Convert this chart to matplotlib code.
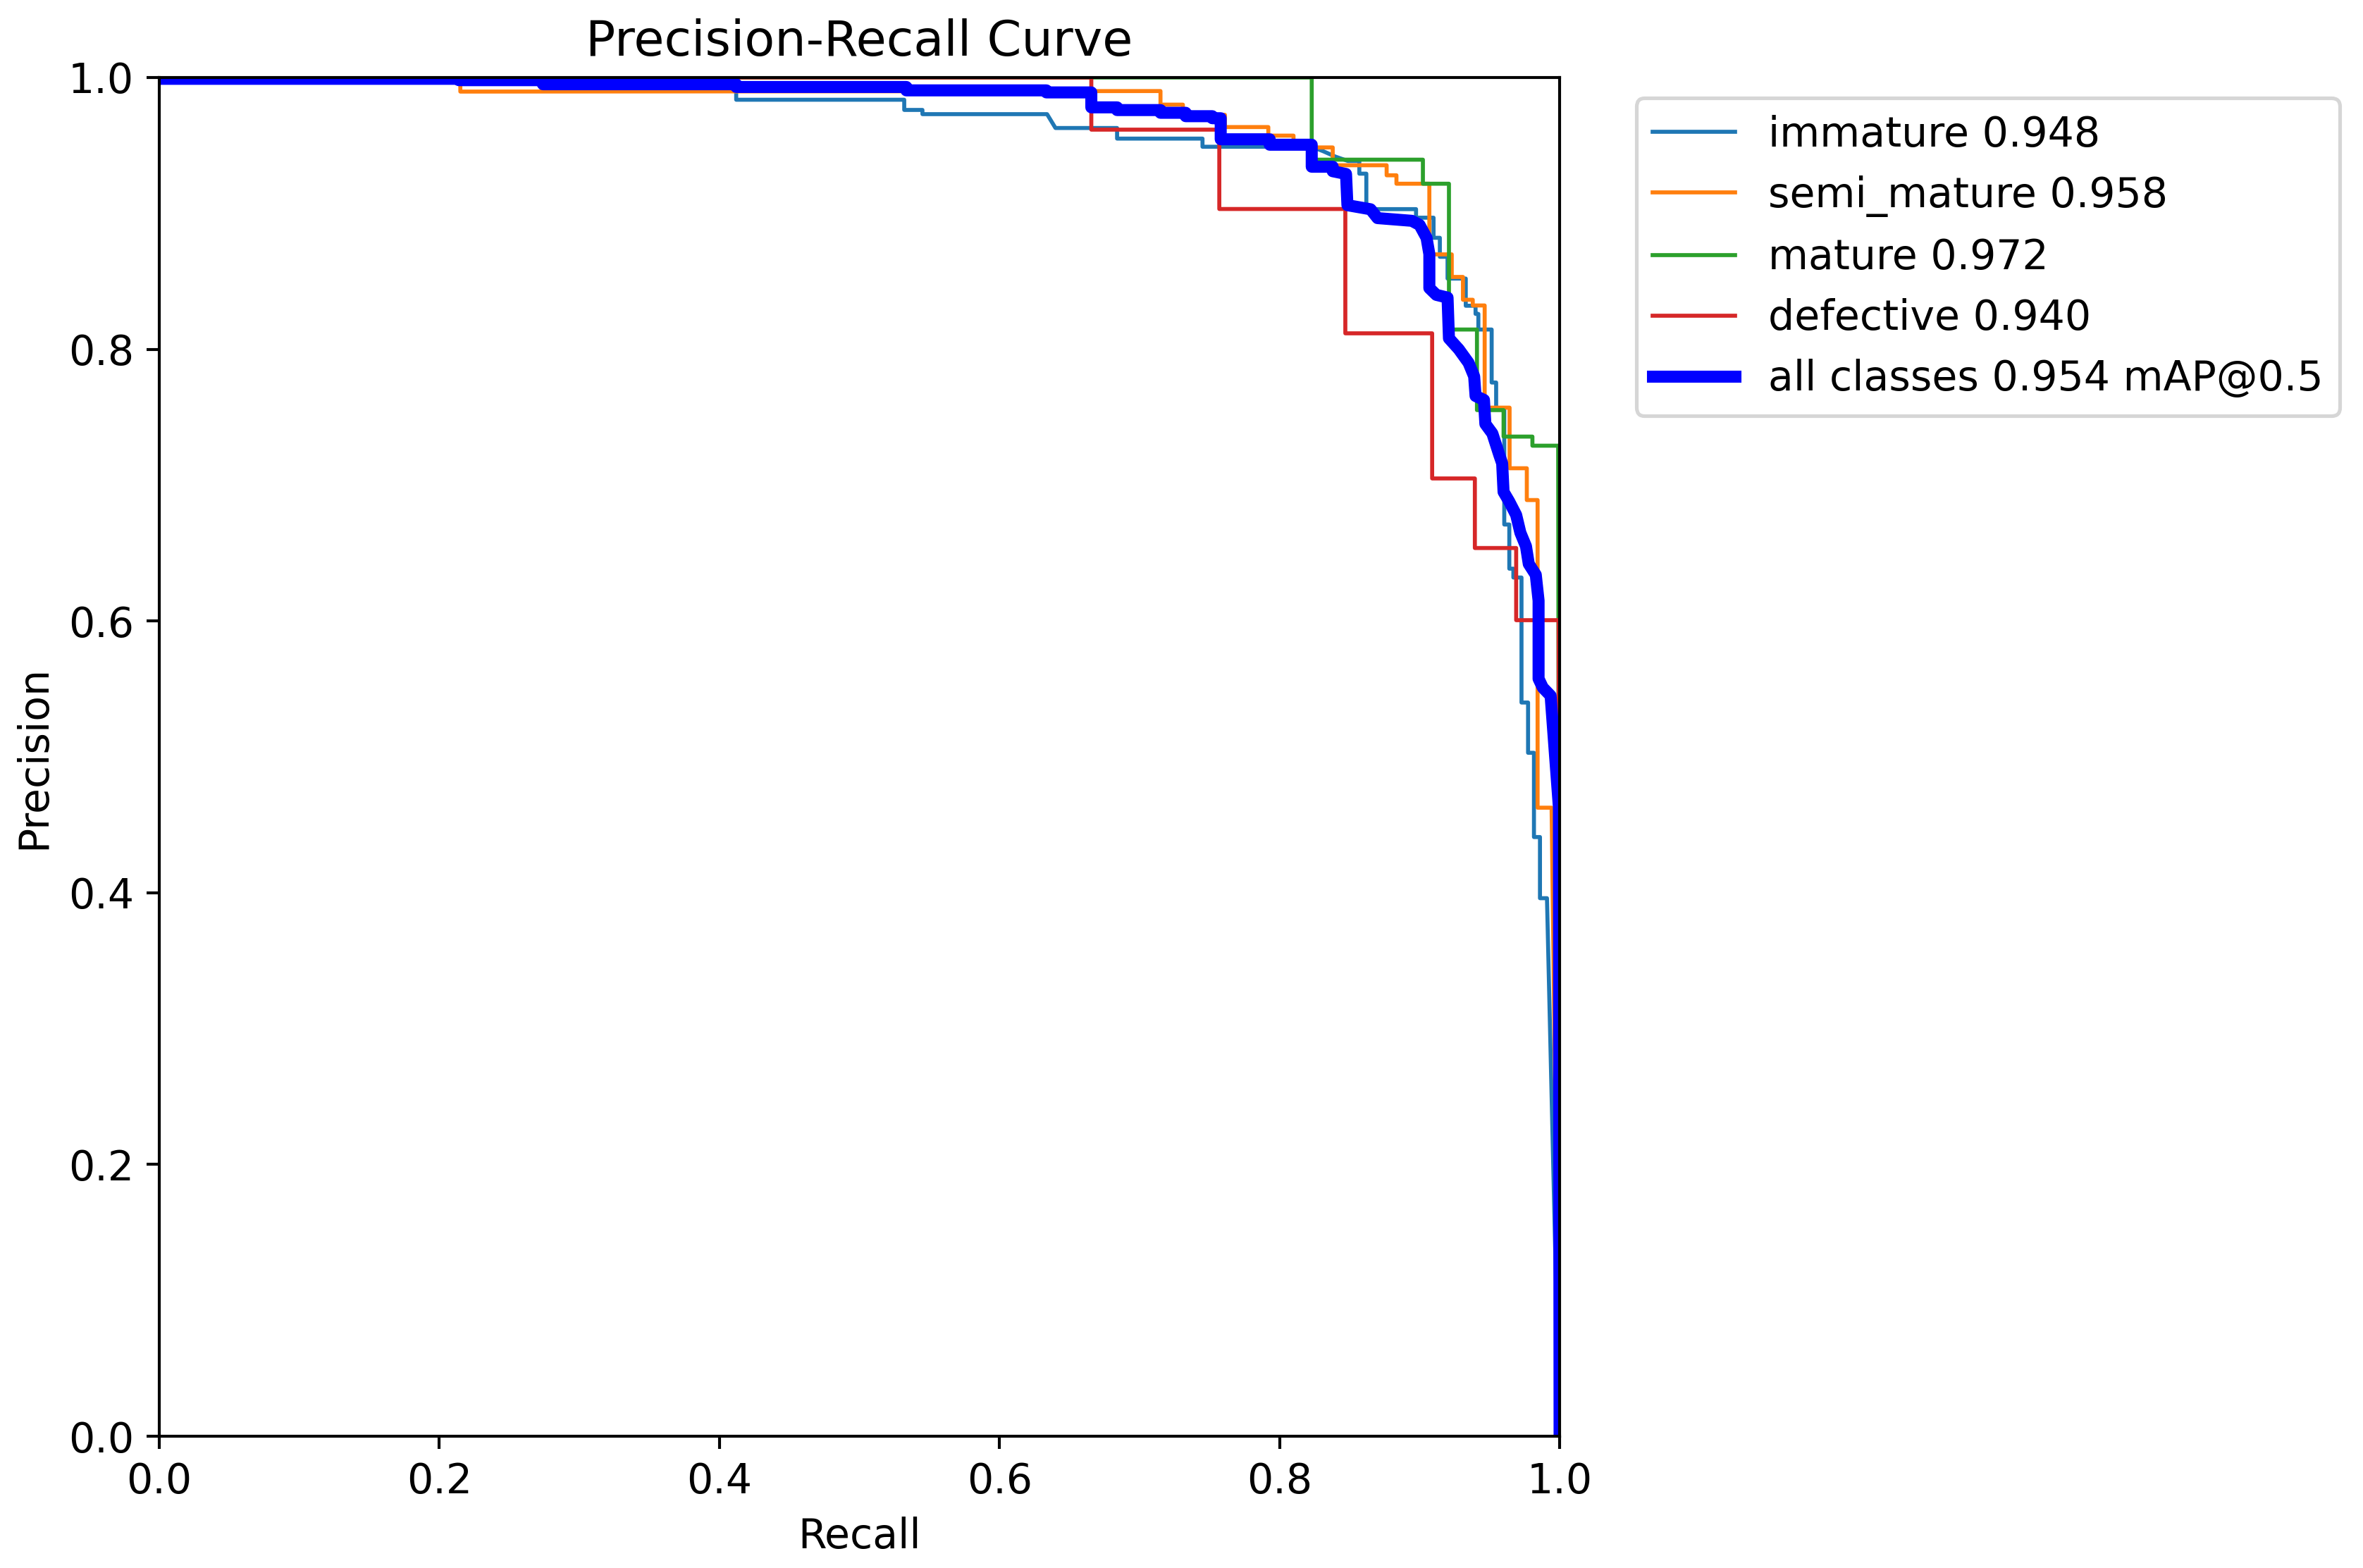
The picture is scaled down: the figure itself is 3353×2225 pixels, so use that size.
import matplotlib
matplotlib.use('Agg')
import matplotlib.pyplot as plt

# Precision-recall curves per class (recall, precision vertices)
CLASS_NAMES = ['immature', 'semi_mature', 'mature', 'defective']
CLASS_AP = [0.948, 0.958, 0.972, 0.940]
MAP50 = 0.954

immature_r = [0.000, 0.412, 0.412, 0.532, 0.532, 0.545, 0.545, 0.634, 0.640, 0.684,
              0.684, 0.745, 0.745, 0.823, 0.831, 0.840, 0.849, 0.857, 0.857, 0.862,
              0.862, 0.8975, 0.8975, 0.910, 0.910, 0.9145, 0.9145, 0.920, 0.920, 0.933,
              0.933, 0.940, 0.940, 0.942, 0.942, 0.9515, 0.9515, 0.9547, 0.9547, 0.9605,
              0.9605, 0.9641, 0.9641, 0.967, 0.967, 0.9728, 0.9728, 0.9775, 0.9775, 0.9817,
              0.9817, 0.986, 0.986, 0.991, 1.000]
immature_p = [1.000, 1.000, 0.9836, 0.9836, 0.9761, 0.9761, 0.973, 0.973, 0.9628, 0.9628,
              0.955, 0.955, 0.949, 0.949, 0.9458, 0.9417, 0.9385, 0.9385, 0.9292, 0.9292,
              0.9031, 0.9031, 0.8968, 0.8968, 0.882, 0.882, 0.868, 0.868, 0.852, 0.852,
              0.832, 0.832, 0.826, 0.826, 0.8145, 0.8145, 0.7755, 0.7755, 0.7557, 0.7557,
              0.671, 0.671, 0.6385, 0.6385, 0.632, 0.632, 0.540, 0.540, 0.503, 0.503,
              0.441, 0.441, 0.396, 0.396, 0.000]

semi_r = [0.000, 0.215, 0.215, 0.715, 0.715, 0.731, 0.731, 0.761, 0.761, 0.792,
          0.792, 0.810, 0.810, 0.838, 0.838, 0.8765, 0.8765, 0.8835, 0.8835, 0.907,
          0.907, 0.923, 0.923, 0.931, 0.931, 0.938, 0.938, 0.9465, 0.9465, 0.9643,
          0.9643, 0.9766, 0.9766, 0.9843, 0.9843, 0.9943, 1.000]
semi_p = [1.000, 1.000, 0.9896, 0.990, 0.980, 0.980, 0.9725, 0.9725, 0.9635, 0.9635,
          0.9572, 0.9572, 0.9485, 0.9485, 0.9354, 0.9354, 0.928, 0.928, 0.9218, 0.9218,
          0.8698, 0.8698, 0.8532, 0.8532, 0.8364, 0.8364, 0.8322, 0.8322, 0.757, 0.757,
          0.7124, 0.7124, 0.689, 0.689, 0.4626, 0.4626, 0.000]

mature_r = [0.000, 0.823, 0.823, 0.9024, 0.9024, 0.921, 0.921, 0.941, 0.941, 0.960,
            0.960, 0.9806, 0.9806, 0.999, 1.000]
mature_p = [1.000, 1.000, 0.9395, 0.9395, 0.9218, 0.9218, 0.8145, 0.8145, 0.7552, 0.7552,
            0.7357, 0.7357, 0.729, 0.729, 0.000]

defective_r = [0.000, 0.6656, 0.6656, 0.757, 0.757, 0.847, 0.847, 0.909, 0.909, 0.9395,
               0.9395, 0.969, 0.969, 0.9993, 1.000]
defective_p = [1.000, 1.000, 0.9616, 0.9616, 0.9032, 0.9032, 0.8117, 0.8117, 0.7049, 0.7049,
               0.6537, 0.6537, 0.6006, 0.6006, 0.000]

all_r = [0.000, 0.214, 0.214, 0.274, 0.274, 0.412, 0.412, 0.5335, 0.5335, 0.6335,
         0.6335, 0.6656, 0.6656, 0.684, 0.684, 0.715, 0.715, 0.733, 0.733, 0.752,
         0.752, 0.758, 0.758, 0.793, 0.793, 0.823, 0.823, 0.838, 0.838, 0.8475,
         0.8485, 0.865, 0.870, 0.8945, 0.900, 0.905, 0.907, 0.907, 0.912, 0.920,
         0.921, 0.928, 0.935, 0.939, 0.940, 0.946, 0.947, 0.952, 0.957, 0.959,
         0.960, 0.964, 0.969, 0.972, 0.976, 0.978, 0.983, 0.985, 0.985, 0.988,
         0.9936, 0.9995, 1.000]
all_p = [0.999, 0.999, 0.998, 0.998, 0.995, 0.995, 0.993, 0.993, 0.9905, 0.9905,
         0.989, 0.989, 0.978, 0.978, 0.976, 0.976, 0.974, 0.974, 0.9715, 0.9715,
         0.970, 0.970, 0.9545, 0.9545, 0.9505, 0.9505, 0.9343, 0.9343, 0.931, 0.929,
         0.906, 0.903, 0.8965, 0.8945, 0.8915, 0.882, 0.870, 0.845, 0.840, 0.838,
         0.808, 0.800, 0.790, 0.780, 0.7656, 0.7627, 0.745, 0.738, 0.722, 0.716,
         0.695, 0.688, 0.678, 0.665, 0.655, 0.642, 0.634, 0.615, 0.5575, 0.551,
         0.545, 0.463, 0.000]

curves = [(immature_r, immature_p), (semi_r, semi_p),
          (mature_r, mature_p), (defective_r, defective_p)]
colors = ['#1f77b4', '#ff7f0e', '#2ca02c', '#d62728']

plt.rcParams['font.size'] = 11.3

DPI = 372.5
fig = plt.figure(figsize=(3353 / DPI, 2225 / DPI), dpi=DPI)
ax = fig.add_axes([0.0674, 0.0840, 0.5926, 0.8666])

for (r, p), name, ap, c in zip(curves, CLASS_NAMES, CLASS_AP, colors):
    ax.plot(r, p, linewidth=1.1, color=c, label=f'{name} {ap:.3f}')
ax.plot(all_r, all_p, linewidth=3.3, color='blue', label=f'all classes {MAP50:.3f} mAP@0.5')

ax.set_xlabel('Recall')
ax.set_ylabel('Precision')
ax.set_xlim(0, 1)
ax.set_ylim(0, 1)
ax.legend(bbox_to_anchor=(1.04, 1), loc='upper left')
ax.set_title('Precision-Recall Curve')

fig.savefig('out.png', dpi=DPI)
